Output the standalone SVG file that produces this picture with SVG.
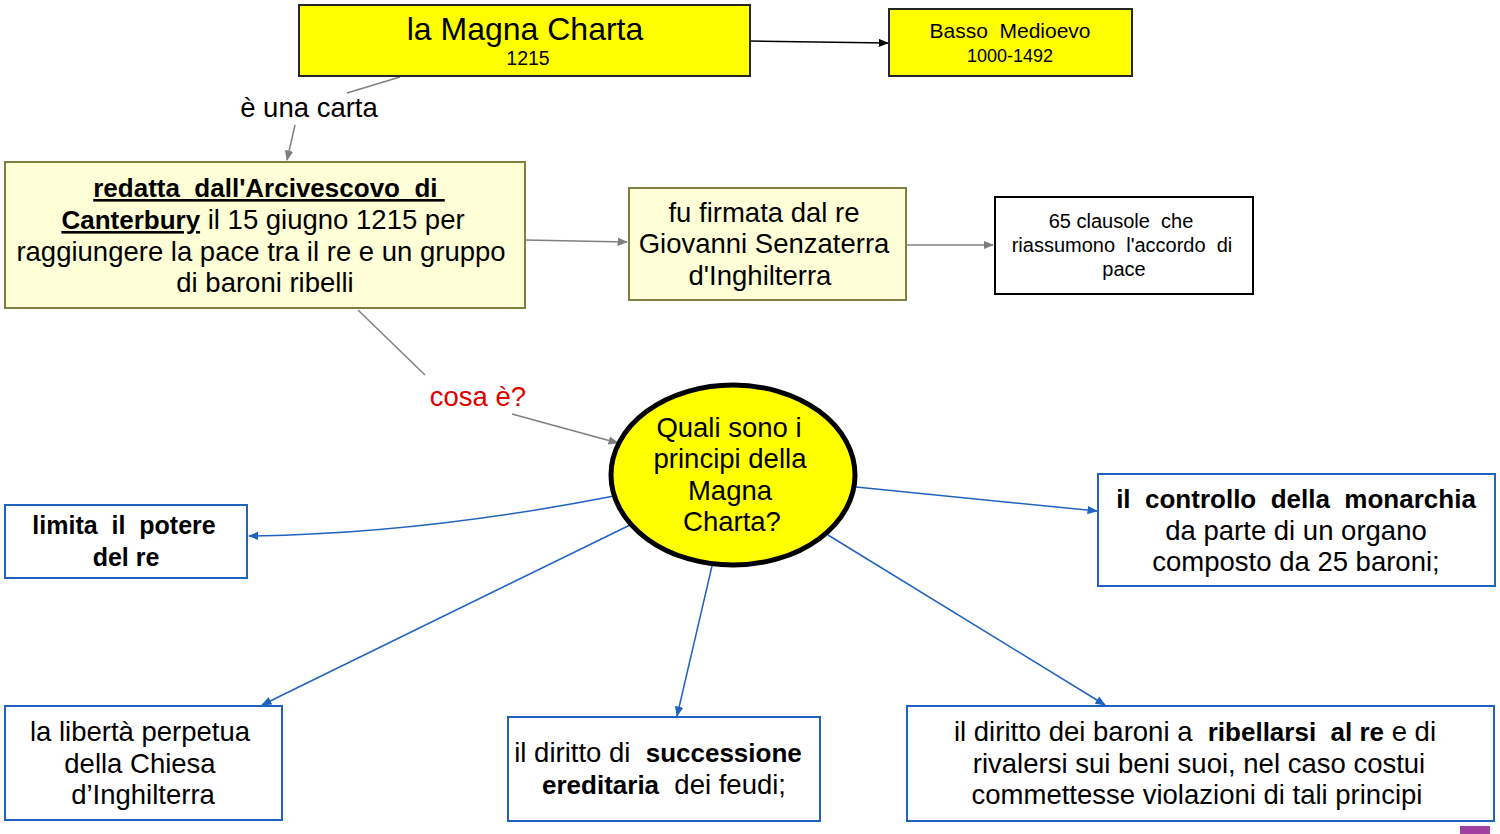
<svg xmlns="http://www.w3.org/2000/svg" width="1500" height="834" viewBox="0 0 1500 834" xml:space="preserve">
<style>
text{font-family:"Liberation Sans",Arial,sans-serif;fill:#000;text-anchor:middle;white-space:pre}
.t26{font-size:27.5px}
.bb{font-size:26px;font-weight:bold}
.b{font-weight:bold}
.u{text-decoration:underline}
.yel{fill:#FFFF00;stroke:#262626;stroke-width:2}
.cream{fill:#FFFFD7;stroke:#7F7F3F;stroke-width:2}
.blue{fill:#fff;stroke:#1F62C0;stroke-width:2}
.gray{stroke:#7F7F7F;stroke-width:1.5;fill:none}
.bl{stroke:#1F62C0;stroke-width:1.5;fill:none}
</style>
<defs>
<marker id="ag" viewBox="0 0 10 10" refX="9" refY="5" markerWidth="7" markerHeight="7" orient="auto"><path d="M0,1L10,5L0,9z" fill="#7F7F7F"/></marker>
<marker id="ak" viewBox="0 0 10 10" refX="9" refY="5" markerWidth="7" markerHeight="7" orient="auto"><path d="M0,1L10,5L0,9z" fill="#000"/></marker>
<marker id="ab" viewBox="0 0 10 10" refX="9" refY="5" markerWidth="7" markerHeight="7" orient="auto"><path d="M0,1L10,5L0,9z" fill="#1F62C0"/></marker>
</defs>
<g id="connectors">
<line x1="750" y1="41" x2="888" y2="43" stroke="#000" stroke-width="1.5" marker-end="url(#ak)"/>
<line class="gray" x1="400" y1="77" x2="347" y2="93"/>
<line class="gray" x1="295" y1="125" x2="287" y2="160" marker-end="url(#ag)"/>
<line class="gray" x1="525" y1="240" x2="627" y2="242" marker-end="url(#ag)"/>
<line class="gray" x1="906" y1="245" x2="993" y2="245" marker-end="url(#ag)"/>
<line class="gray" x1="358" y1="310" x2="425" y2="375"/>
<line class="gray" x1="512" y1="414" x2="618" y2="443" marker-end="url(#ag)"/>
<path class="bl" d="M614,496 Q420,534 249,536" marker-end="url(#ab)"/>
<line class="bl" x1="630" y1="525" x2="262" y2="705" marker-end="url(#ab)"/>
<line class="bl" x1="712" y1="566" x2="677" y2="716" marker-end="url(#ab)"/>
<line class="bl" x1="828" y1="535" x2="1105" y2="705" marker-end="url(#ab)"/>
<line class="bl" x1="856" y1="487" x2="1097" y2="511" marker-end="url(#ab)"/>
</g>
<g id="label-una-carta"><text class="t26" x="309" y="117">è una carta</text></g>
<g id="label-cosa"><text class="t26" x="478" y="406" style="fill:#E00000">cosa è?</text></g>
<g id="magna">
<rect class="yel" x="299" y="5" width="451" height="71"/>
<text x="525" y="40" style="font-size:32px">la Magna Charta</text>
<text x="528" y="65" style="font-size:19.5px">1215</text>
</g>
<g id="basso">
<rect class="yel" x="889" y="9" width="243" height="67"/>
<text x="1010" y="38" style="font-size:21px">Basso  Medioevo</text>
<text x="1010" y="62" style="font-size:18px">1000-1492</text>
</g>
<g id="redatta">
<rect class="cream" x="5" y="162" width="520" height="146"/>
<text class="bb u" x="269" y="197">redatta  dall'Arcivescovo  di </text>
<text class="t26" x="263" y="229"><tspan class="bb u">Canterbury</tspan> il 15 giugno 1215 per</text>
<text class="t26" x="261" y="261">raggiungere la pace tra il re e un gruppo</text>
<text class="t26" x="265" y="292">di baroni ribelli</text>
</g>
<g id="firmata">
<rect class="cream" x="629" y="188" width="277" height="112"/>
<text class="t26" x="764" y="222">fu firmata dal re</text>
<text class="t26" x="764" y="253">Giovanni Senzaterra</text>
<text class="t26" x="760" y="285">d'Inghilterra</text>
</g>
<g id="clausole">
<rect x="995" y="197" width="258" height="97" fill="#fff" stroke="#000" stroke-width="2"/>
<text x="1121" y="228" style="font-size:20px">65 clausole  che</text>
<text x="1122" y="252" style="font-size:20px">riassumono  l'accordo  di</text>
<text x="1124" y="276" style="font-size:20px">pace</text>
</g>
<g id="principi">
<ellipse cx="733" cy="475" rx="122" ry="90" fill="#FFFF00" stroke="#000" stroke-width="5"/>
<text class="t26" x="729" y="437">Quali sono i</text>
<text class="t26" x="730" y="468">principi della</text>
<text class="t26" x="730" y="500">Magna</text>
<text class="t26" x="732" y="531">Charta?</text>
</g>
<g id="limita">
<rect class="blue" x="5" y="505" width="242" height="73"/>
<text class="b" style="font-size:25px" x="124" y="534">limita  il  potere</text>
<text class="b" style="font-size:25px" x="126" y="566">del re</text>
</g>
<g id="controllo">
<rect class="blue" x="1098" y="474" width="397" height="112"/>
<text class="bb" x="1296" y="508">il  controllo  della  monarchia</text>
<text class="t26" x="1296" y="540">da parte di un organo</text>
<text class="t26" x="1296" y="571">composto da 25 baroni;</text>
</g>
<g id="liberta">
<rect class="blue" x="5" y="706" width="277" height="114"/>
<text class="t26" x="140" y="741">la libertà perpetua</text>
<text class="t26" x="140" y="773">della Chiesa</text>
<text class="t26" x="143" y="804">d’Inghilterra</text>
</g>
<g id="successione">
<rect class="blue" x="508" y="717" width="312" height="104"/>
<text class="t26" x="658" y="762">il diritto di  <tspan class="bb">successione</tspan></text>
<text class="t26" x="664" y="794"><tspan class="bb">ereditaria</tspan>  dei feudi;</text>
</g>
<g id="ribellarsi">
<rect class="blue" x="907" y="706" width="587" height="115"/>
<text class="t26" x="1195" y="741">il diritto dei baroni a  <tspan class="bb">ribellarsi  al re</tspan> e di</text>
<text class="t26" x="1199" y="773">rivalersi sui beni suoi, nel caso costui</text>
<text class="t26" x="1197" y="804">commettesse violazioni di tali principi</text>
</g>
<rect x="1460" y="826" width="30" height="8" fill="#A040A0"/>
</svg>
